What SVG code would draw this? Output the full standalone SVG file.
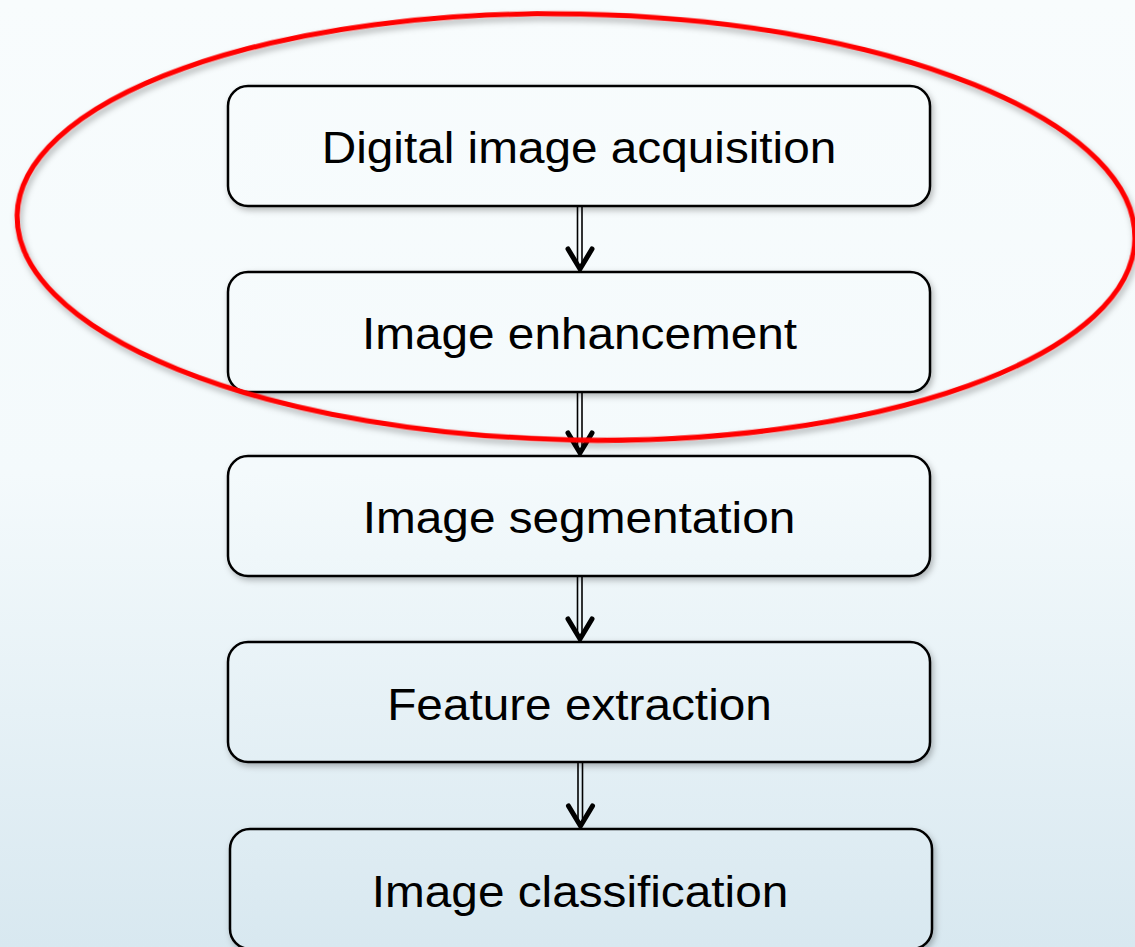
<svg xmlns="http://www.w3.org/2000/svg" width="1135" height="947" viewBox="0 0 1135 947">
<defs>
<linearGradient id="bg" gradientUnits="userSpaceOnUse" x1="0" y1="0" x2="0" y2="947">
<stop offset="0" stop-color="#f8fcfd"/>
<stop offset="0.5" stop-color="#f4fafc"/>
<stop offset="1" stop-color="#d8e8f0"/>
</linearGradient>
<filter id="sh" x="-10%" y="-20%" width="120%" height="150%">
<feDropShadow dx="2" dy="3" stdDeviation="3" flood-color="#000" flood-opacity="0.28"/>
</filter>
<filter id="esh" x="-5%" y="-5%" width="110%" height="115%">
<feDropShadow dx="2" dy="4" stdDeviation="3" flood-color="#000" flood-opacity="0.3"/>
</filter>
</defs>
<style>
.box{fill:url(#bg);stroke:#000;stroke-width:2.5;filter:url(#sh)}
.lbl{font-family:"Liberation Sans",Arial,sans-serif;font-size:44px;fill:#000;text-anchor:middle}
.stem{stroke:#000;stroke-width:1.6;fill:none}
.head{stroke:#000;stroke-width:5;fill:none;stroke-linecap:round;stroke-linejoin:miter}
</style>
<rect width="1135" height="947" fill="url(#bg)"/>
<g id="connectors">
<g id="a1"><line class="stem" x1="577.5" y1="207" x2="577.5" y2="266"/><line class="stem" x1="582" y1="207" x2="582" y2="266"/><polyline class="head" points="568,249 580,269 592,249"/></g>
<g id="a2"><line class="stem" x1="577.5" y1="393" x2="577.5" y2="450"/><line class="stem" x1="582" y1="393" x2="582" y2="450"/><polyline class="head" points="568,433 580,453 592,433"/></g>
<g id="a3"><line class="stem" x1="577.5" y1="577" x2="577.5" y2="636"/><line class="stem" x1="582" y1="577" x2="582" y2="636"/><polyline class="head" points="568,619 580,639 592,619"/></g>
<g id="a4"><line class="stem" x1="578" y1="763" x2="578" y2="823"/><line class="stem" x1="582.5" y1="763" x2="582.5" y2="823"/><polyline class="head" points="568.5,806 580.5,826 592.5,806"/></g>
</g>
<g id="n1"><rect class="box" x="228" y="86" width="702" height="120" rx="20"/><text class="lbl" transform="translate(579 163) scale(1.085 1)">Digital image acquisition</text></g>
<g id="n2"><rect class="box" x="228" y="272" width="702" height="120" rx="20"/><text class="lbl" transform="translate(579.5 349) scale(1.085 1)">Image enhancement</text></g>
<g id="n3"><rect class="box" x="228" y="456" width="702" height="120" rx="20"/><text class="lbl" transform="translate(579 533) scale(1.085 1)">Image segmentation</text></g>
<g id="n4"><rect class="box" x="228" y="642" width="702" height="120" rx="20"/><text class="lbl" transform="translate(579.5 720) scale(1.085 1)">Feature extraction</text></g>
<g id="n5"><rect class="box" x="230" y="829" width="702" height="120" rx="20"/><text class="lbl" transform="translate(580 907) scale(1.085 1)">Image classification</text></g>
<g id="highlight"><ellipse cx="576" cy="227" rx="559" ry="213" fill="none" stroke="#ff0000" stroke-width="5" filter="url(#esh)" transform="rotate(1.2 576 227)"/></g>
</svg>
